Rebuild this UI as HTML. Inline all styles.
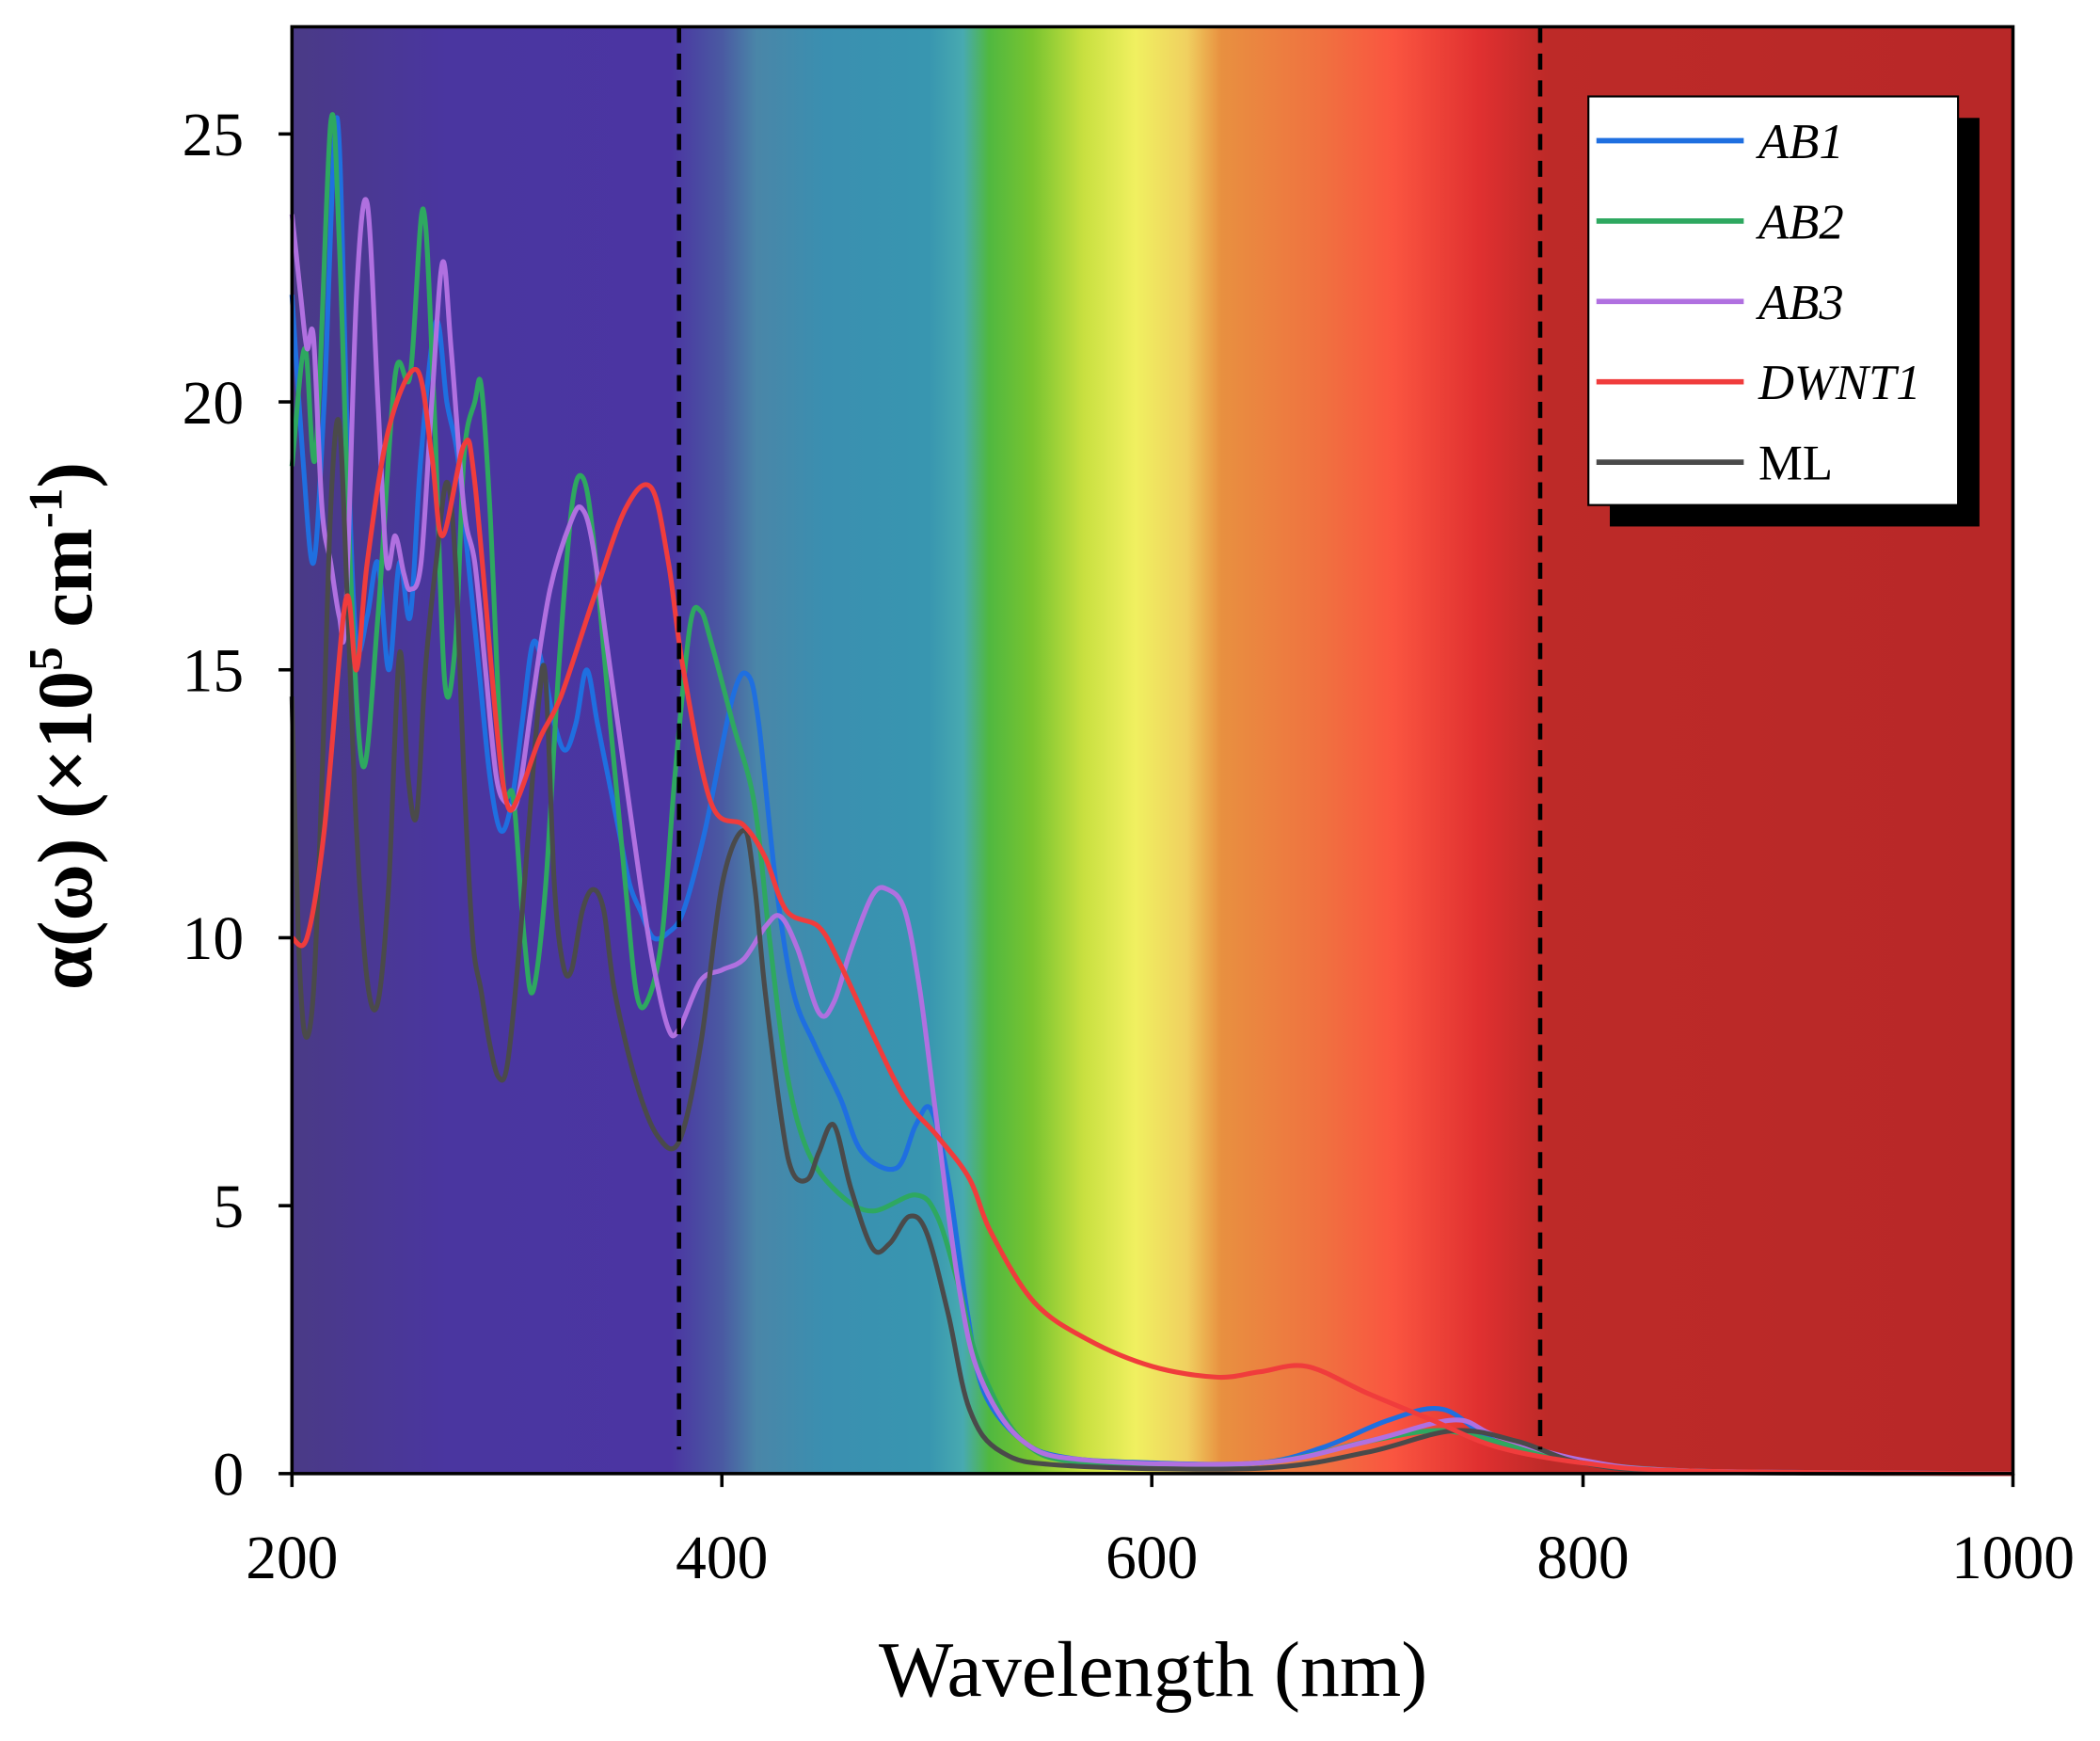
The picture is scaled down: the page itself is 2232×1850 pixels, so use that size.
<!DOCTYPE html>
<html><head><meta charset="utf-8"><style>html,body{margin:0;padding:0;background:#fff}svg{display:block}</style></head>
<body>
<svg id="s" width="2232" height="1850" viewBox="0 0 1568 1299.6" preserveAspectRatio="none" xmlns="http://www.w3.org/2000/svg">
<defs>
<linearGradient id="g" x1="218" x2="1503" y1="0" y2="0" gradientUnits="userSpaceOnUse">
<stop offset="0" stop-color="#4a3a86"/>
<stop offset="0.09" stop-color="#4a36a0"/>
<stop offset="0.22" stop-color="#4b35a2"/>
<stop offset="0.25" stop-color="#4a5aa2"/>
<stop offset="0.27" stop-color="#4a86a8"/>
<stop offset="0.31" stop-color="#3a8fb0"/>
<stop offset="0.37" stop-color="#3896b0"/>
<stop offset="0.39" stop-color="#48aab0"/>
<stop offset="0.405" stop-color="#50b840"/>
<stop offset="0.43" stop-color="#78c430"/>
<stop offset="0.46" stop-color="#c8e040"/>
<stop offset="0.49" stop-color="#f0f060"/>
<stop offset="0.52" stop-color="#f0d060"/>
<stop offset="0.54" stop-color="#e89040"/>
<stop offset="0.60" stop-color="#f07040"/>
<stop offset="0.64" stop-color="#fa5540"/>
<stop offset="0.69" stop-color="#e03030"/>
<stop offset="0.73" stop-color="#bd2a28"/>
<stop offset="1" stop-color="#b82828"/>
</linearGradient>
</defs>
<rect x="218" y="20" width="1285" height="1080" fill="url(#g)"/>
<g id="curves" fill="none" stroke-width="3.6"></g>
<line x1="507" y1="20" x2="507" y2="1082" stroke="#000" stroke-width="3.2" stroke-dasharray="12,8"/>
<line x1="1150" y1="20" x2="1150" y2="1082" stroke="#000" stroke-width="3.2" stroke-dasharray="12,8"/>
<rect x="218" y="20" width="1285" height="1080" fill="none" stroke="#000" stroke-width="2.5"/>
<g stroke="#000" stroke-width="2.5">
<line x1="218" y1="1100" x2="218" y2="1110"/><line x1="539" y1="1100" x2="539" y2="1110"/><line x1="860" y1="1100" x2="860" y2="1110"/><line x1="1182" y1="1100" x2="1182" y2="1110"/><line x1="1503" y1="1100" x2="1503" y2="1110"/>
<line x1="208" y1="1100" x2="218" y2="1100"/><line x1="208" y1="900" x2="218" y2="900"/><line x1="208" y1="700" x2="218" y2="700"/><line x1="208" y1="500" x2="218" y2="500"/><line x1="208" y1="300" x2="218" y2="300"/><line x1="208" y1="100" x2="218" y2="100"/>
</g>
<g font-family="Liberation Serif, serif" font-size="46" fill="#000">
<g text-anchor="middle"><text x="218" y="1178">200</text><text x="539" y="1178">400</text><text x="860" y="1178">600</text><text x="1182" y="1178">800</text><text x="1503" y="1178">1000</text></g>
<g text-anchor="end"><text x="182" y="1116">0</text><text x="182" y="916">5</text><text x="182" y="716">10</text><text x="182" y="516">15</text><text x="182" y="316">20</text><text x="182" y="116">25</text></g>
<text x="861" y="1266" text-anchor="middle" font-size="59">Wavelength (nm)</text>
<text transform="translate(68,542) rotate(-90)" text-anchor="middle" font-size="58" font-weight="bold">α(ω) (×10<tspan font-size="36" dy="-22">5</tspan><tspan dy="22"> cm</tspan><tspan font-size="36" dy="-22">-1</tspan><tspan dy="22">)</tspan></text>
</g>
<rect x="1202" y="88" width="276" height="305" fill="#000"/>
<rect x="1186" y="72" width="276" height="305" fill="#fff" stroke="#000" stroke-width="1.5"/>
<g stroke-width="4">
<line x1="1192" y1="105" x2="1302" y2="105" stroke="#1f6fe0"/>
<line x1="1192" y1="165" x2="1302" y2="165" stroke="#2ea860"/>
<line x1="1192" y1="225" x2="1302" y2="225" stroke="#b070e0"/>
<line x1="1192" y1="285" x2="1302" y2="285" stroke="#f03c3c"/>
<line x1="1192" y1="345" x2="1302" y2="345" stroke="#4a4a4a"/>
</g>
<g font-family="Liberation Serif, serif" font-size="37" fill="#000">
<text x="1313" y="118" font-style="italic">AB1</text>
<text x="1313" y="178" font-style="italic">AB2</text>
<text x="1313" y="238" font-style="italic">AB3</text>
<text x="1313" y="298" font-style="italic">DWNT1</text>
<text x="1313" y="358">ML</text>
</g>
</svg>
<script>
const D={
"#1f6fe0":[[200,22],[205,19],[210,17],[215,20],[221,25.3],[226,19],[230,15.5],[235,16],[240,17],[245,15],[250,17],[255,16],[260,19],[267,21.5],[272,20],[277,19],[282,17],[287,15],[292,13],[297,12],[302,12.5],[307,14],[312,15.5],[317,15],[322,14],[327,13.5],[332,14],[337,15],[342,14],[347,13],[352,12],[357,11],[362,10.5],[368,10],[375,10.1],[382,10.5],[392,12],[405,14.5],[412,14.9],[417,14],[425,11],[433,9],[443,8],[455,7],[465,6],[481,5.7],[490,6.5],[497,6.8],[505,5.5],[514,3],[522,1.5],[540,0.6],[560,0.3],[600,0.2],[650,0.2],[680,0.5],[710,1],[735,1.2],[760,0.6],[800,0.2],[850,0.05],[1000,0]],
"#2ea860":[[200,18.8],[206,21],[211,19],[218,25.2],[222,23],[227,17],[233,13.2],[240,16],[248,20.5],[255,20.5],[261,23.6],[266,20],[271,14.8],[276,15.5],[280,19],[285,20],[288,20.3],[292,18],[298,13],[303,12.6],[308,10],[312,9],[318,11],[324,15],[330,18],[335,18.6],[340,17.5],[348,14],[355,11],[360,9],[365,8.8],[372,10],[378,13],[385,15.8],[390,16.1],[395,15.5],[405,14],[415,12.5],[422,10],[430,7.5],[440,6],[455,5.2],[470,4.9],[490,5.2],[500,4.8],[510,3.5],[520,2],[540,0.6],[570,0.2],[650,0.2],[700,0.6],[730,0.8],[750,0.7],[790,0.3],[850,0.05],[1000,0]],
"#b070e0":[[200,23.5],[204,22],[207,21],[210,21.2],[214,18],[218,17],[222,16],[225,16],[230,22],[235,23.7],[240,20],[244,17],[248,17.5],[252,16.8],[255,16.5],[260,17],[265,20],[270,22.6],[274,21],[280,18],[285,17],[290,15],[295,13],[300,12.5],[305,12.6],[312,14.5],[320,16.5],[330,17.8],[335,18],[340,17.3],[348,15],[355,13],[362,11],[368,9.5],[375,8.3],[380,8.3],[390,9.2],[400,9.4],[410,9.6],[420,10.2],[427,10.4],[435,9.8],[445,8.6],[452,8.8],[460,9.8],[470,10.8],[477,10.9],[485,10.5],[492,9],[500,6.5],[510,3.5],[520,1.8],[540,0.6],[570,0.25],[650,0.2],[700,0.6],[740,1],[760,0.7],[800,0.25],[850,0.05],[1000,0]],
"#4a4a4a":[[200,14.5],[203,10],[206,8.2],[210,9],[214,13],[218,18],[222,19.6],[226,16],[230,12],[235,9.2],[240,8.8],[245,11],[250,15.3],[254,13],[258,12.3],[262,15],[267,17],[272,18.5],[276,17],[280,13],[284,10],[288,9],[292,8],[296,7.4],[300,7.6],[305,9.5],[310,12],[315,14.5],[318,14.8],[322,11],[326,9.5],[330,9.4],[335,10.5],[340,10.9],[345,10.5],[350,9],[360,7.3],[370,6.3],[380,6.2],[390,8],[400,11],[410,12],[415,11],[420,9],[428,6.5],[433,5.6],[440,5.5],[445,6],[452,6.5],[460,5.3],[470,4.2],[478,4.3],[487,4.8],[495,4.5],[505,3],[515,1.2],[530,0.4],[560,0.15],[650,0.1],[700,0.4],[740,0.8],[770,0.6],[800,0.2],[850,0.03],[1000,0]],
"#f03c3c":[[200,10],[207,10],[215,12],[225,16.3],[230,15],[235,17],[245,19.5],[258,20.6],[265,19],[270,17.5],[280,19.2],[285,18.5],[295,14],[300,12.5],[305,12.6],[315,13.7],[325,14.5],[340,16.3],[355,18],[367,18.4],[375,17],[382,15],[395,12.5],[410,12.1],[420,11.5],[430,10.5],[445,10.2],[455,9.5],[470,8.2],[485,7],[500,6.3],[515,5.5],[525,4.5],[545,3.2],[570,2.5],[600,2],[630,1.8],[650,1.9],[672,2],[700,1.5],[730,1],[760,0.5],[800,0.2],[850,0.05],[1000,0]]};
const g=document.getElementById('curves');
for(const c in D){const p=D[c].map(([n,v])=>[218+(n-200)*1.606,1100-v*40]);
let d='M'+p[0][0].toFixed(1)+','+p[0][1].toFixed(1);
for(let i=0;i<p.length-1;i++){const a=p[Math.max(i-1,0)],b=p[i],e=p[i+1],f=p[Math.min(i+2,p.length-1)];
d+=' C'+(b[0]+(e[0]-a[0])/6).toFixed(1)+','+(b[1]+(e[1]-a[1])/6).toFixed(1)+' '+(e[0]-(f[0]-b[0])/6).toFixed(1)+','+(e[1]-(f[1]-b[1])/6).toFixed(1)+' '+e[0].toFixed(1)+','+e[1].toFixed(1);}
const el=document.createElementNS('http://www.w3.org/2000/svg','path');el.setAttribute('d',d);el.setAttribute('stroke',c);g.appendChild(el);}
</script>
</body></html>
